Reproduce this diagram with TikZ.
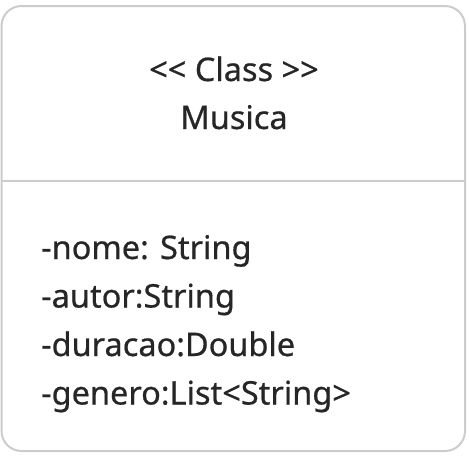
\documentclass[tikz,border=0pt]{standalone}
\usepackage{fontspec}
\setmainfont[FakeBold=0.6]{Noto Sans}
\definecolor{bordc}{HTML}{CCCCCC}
\definecolor{txtc}{HTML}{262626}
\begin{document}
\begin{tikzpicture}[x=1pt,y=-1pt,
  frame/.style={draw=bordc,line width=2pt,rounded corners=20pt},
  divider/.style={draw=bordc,line width=2pt},
  txt/.style={inner sep=0pt,text=txtc,font=\fontsize{32.5}{39}\selectfont},
  attr/.style={txt,anchor=base west}]
\useasboundingbox (0,0) rectangle (469,456);
\draw[frame] (1.5,6) rectangle (465,451);
\coordinate (dl) at (1.5,181);
\coordinate (dr) at (465,181);
\draw[divider] (dl) -- (dr);
\node[txt,anchor=base] (st) at (234,81) {<{}< Class >{}>};
\node[txt,anchor=base] (nm) at (234,129) {Musica};
\node[attr] (a1) at (41,259) {-nome: String};
\node[attr] (a2) at (41,307.5) {-autor:String};
\node[attr] (a3) at (41,356) {-duracao:Double};
\node[attr] (a4) at (41,404.5) {-genero:List<String>};
\end{tikzpicture}
\end{document}
